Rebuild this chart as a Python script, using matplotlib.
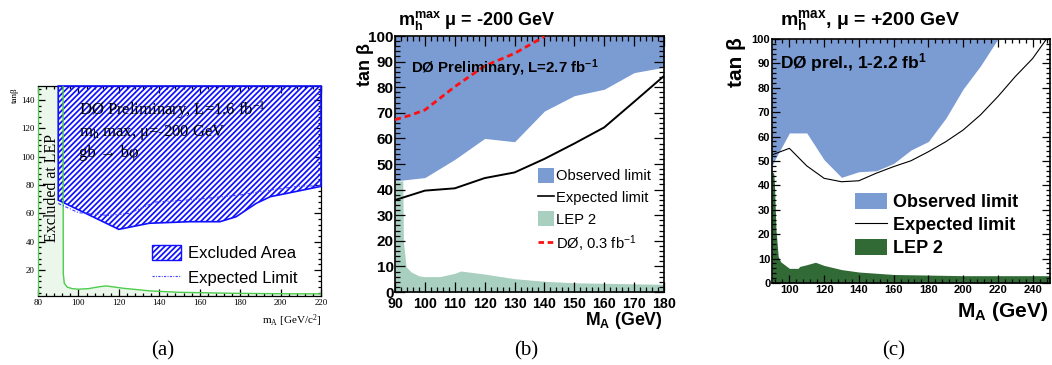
import matplotlib
matplotlib.use("Agg")
import matplotlib.pyplot as plt
from matplotlib.patches import Patch
from matplotlib.lines import Line2D
from matplotlib.ticker import MultipleLocator

plt.rcParams['mathtext.default'] = 'regular'
plt.rcParams['hatch.linewidth'] = 1.25

SANS = ['Liberation Sans', 'DejaVu Sans']
SERIF = ['Liberation Serif', 'DejaVu Serif']

# ---------------- data: panel (a) ----------------
a_lep_x = [80, 92.4, 92.5, 93.0, 94.5, 97, 100, 105, 110.6, 113.9, 122, 135.4, 150, 177, 200, 220]
a_lep_y = [150, 150, 17.6, 10.6, 7.8, 6.8, 6.4, 6.8, 8.2, 8.7, 7.1, 5.2, 4.2, 3.5, 3.2, 3.1]
a_obs_x = [90, 90, 120, 135, 155, 170, 178, 188, 195, 203, 219, 220]
a_obs_y = [150, 69.4, 48.7, 53.0, 54.1, 54.1, 57.6, 67.1, 71.8, 74.1, 78.8, 79.0]
a_exp_x = [90, 100, 115, 125, 138, 155, 180, 195, 210, 220]
a_exp_y = [67, 60.5, 58.5, 60, 68, 69.5, 73, 76.5, 79.3, 79.5]

# ---------------- data: panel (b) ----------------
b_obs_x = [90, 100, 110, 120, 130, 140, 150, 160, 170, 180]
b_obs_y = [43.4, 44.7, 51.8, 60.0, 58.7, 70.7, 76.7, 79.2, 85.7, 87.8]
b_exp_x = [90, 100, 110, 120, 130, 140, 150, 160, 170, 180]
b_exp_y = [35.9, 39.6, 40.5, 44.5, 46.7, 52.0, 58.0, 64.3, 74.3, 84.4]
b_d0_x = [90, 95, 100, 110, 120, 130, 140]
b_d0_y = [67.3, 69.0, 71.1, 80.2, 88.3, 93.2, 99.8]
b_lep_x = [90, 92.6, 92.8, 93.7, 95.3, 98, 100, 105, 110, 112, 120, 130, 140, 150, 160, 170, 180]
b_lep_y = [43.4, 43.4, 20, 9.9, 7.9, 6.3, 6.0, 6.0, 7.3, 8.2, 7.0, 5.2, 4.2, 3.6, 3.4, 3.2, 3.0]

# ---------------- data: panel (c) ----------------
c_obs_x = [90, 92, 100, 110, 120, 130, 140, 150, 160, 170, 180, 190, 200, 210, 220]
c_obs_y = [48, 51, 61.5, 61.5, 50.5, 43.3, 45.6, 46.0, 49.0, 54.5, 58.0, 67.5, 79.5, 89.0, 100]
c_exp_x = [90, 100, 110, 120, 130, 140, 150, 160, 170, 180, 190, 200, 210, 220, 230, 240, 248]
c_exp_y = [52.5, 55.2, 48.0, 42.9, 41.5, 41.9, 45.0, 47.7, 50.1, 53.8, 57.9, 62.7, 68.9, 76.4, 84.6, 92.0, 100]
c_lep_x = [90, 91, 91.4, 92.3, 93.6, 95, 100, 105, 106, 110, 115, 120, 130, 140, 160, 200, 250]
c_lep_y = [45.6, 45, 40.8, 21.7, 10.8, 8.7, 6.0, 6.0, 6.8, 7.5, 8.5, 7.2, 5.5, 4.5, 3.5, 3.0, 3.0]

legend_b = ['Observed limit', 'Expected limit', 'LEP 2', 'D\u00d8, 0.3 fb$^{-1}$']
legend_c = ['Observed limit', 'Expected limit', 'LEP 2']
legend_a = ['Excluded Area', 'Expected Limit']

BLUE = '#7b9bd3'
LEP_B = '#a9cfc0'
LEP_C = '#326a36'
HATCH_BLUE = '#1010ff'

W, H = 1052, 365
fig = plt.figure(figsize=(W / 100, H / 100), dpi=100)


def ax_px(l, t, r, b):
    return fig.add_axes([l / W, 1 - b / H, (r - l) / W, (b - t) / H])


def ftext(x, y, s, **kw):
    fig.text(x / W, 1 - y / H, s, **kw)


def root_ticks(ax, major_len, minor_len, size, weight, family, pad):
    ax.tick_params(which='both', direction='in', top=True, right=True, width=0.9)
    ax.tick_params(which='major', length=major_len, labelsize=size, pad=pad)
    ax.tick_params(which='minor', length=minor_len)
    for lab in ax.get_xticklabels() + ax.get_yticklabels():
        lab.set_fontweight(weight)
        lab.set_family(family)


# ================= panel (a) =================
axa = ax_px(38, 86, 321, 296)
axa.set_xlim(80, 220)
axa.set_ylim(1.6, 150)
axa.fill_between(a_lep_x, 0, a_lep_y, color='#eaf7ea', lw=0, zorder=1)
axa.plot(a_lep_x[1:], a_lep_y[1:], color='#4ccd4c', lw=1.0, zorder=4)
axa.fill(a_obs_x + [220], a_obs_y + [150], facecolor='none', edgecolor=HATCH_BLUE,
         hatch='//////', lw=1.2, zorder=3, clip_on=False)
axa.plot(a_exp_x, a_exp_y, color='#4040ff', lw=0.8, ls=(0, (3, 1.5, 1, 1.5)), zorder=4)
axa.xaxis.set_major_locator(MultipleLocator(20))
axa.xaxis.set_minor_locator(MultipleLocator(4))
axa.yaxis.set_major_locator(MultipleLocator(20))
axa.yaxis.set_minor_locator(MultipleLocator(4))
axa.set_yticks([20, 40, 60, 80, 100, 120, 140])
root_ticks(axa, 5, 2.5, 6.5, 'normal', SERIF, 2.5)
axa.spines['left'].set_color('#4ccd4c')
for s in axa.spines.values():
    s.set_linewidth(0.9)
axa.text(87, 78, 'Excluded at LEP', rotation=90, ha='center', va='center',
         fontsize=11.5, family=SERIF, zorder=5)
ftext(79, 115, 'D\u00d8 Preliminary, L=1.6 fb$^{-1}$', fontsize=12, family=SERIF, va='baseline')
ftext(79, 136, 'm$_h$ max, \u03bc=-200 GeV', fontsize=12, family=SERIF, va='baseline')
ftext(79, 157, 'gb \u2192 b\u03c6', fontsize=12, family=SERIF, va='baseline')
ftext(15, 87, 'tan\u03b2', rotation=90, ha='center', va='top', fontsize=6.5, family=SERIF)
ftext(321, 324, 'm$_A$ [GeV/c$^2$]', ha='right', va='baseline', fontsize=8, family=SERIF)
ha_a = [Patch(facecolor='white', edgecolor=HATCH_BLUE, hatch='//////', lw=1.0),
        Line2D([], [], color='#4040ff', lw=0.8, ls=(0, (2, 1.2, 0.8, 1.2)))]
axa.legend(ha_a, legend_a, loc='upper left', bbox_to_anchor=(0.404, 0.243),
           frameon=False, borderpad=0, borderaxespad=0, handlelength=1.74,
           handleheight=1.0, handletextpad=0.38, labelspacing=0.5,
           prop={'family': SANS, 'size': 12})

# ================= panel (b) =================
axb = ax_px(395, 36, 664, 292)
axb.set_xlim(90, 180)
axb.set_ylim(0, 100)
axb.fill_between(b_obs_x, b_obs_y, 100, color=BLUE, lw=0, zorder=1)
axb.fill_between(b_lep_x, 0, b_lep_y, color=LEP_B, lw=0, zorder=1)
axb.plot(b_exp_x, b_exp_y, color='black', lw=1.4, zorder=3)
axb.plot(b_d0_x, b_d0_y, color='#ff1010', lw=2.0, ls=(0, (2.2, 1.4)), zorder=3)
axb.xaxis.set_major_locator(MultipleLocator(10))
axb.xaxis.set_minor_locator(MultipleLocator(2))
axb.yaxis.set_major_locator(MultipleLocator(10))
axb.yaxis.set_minor_locator(MultipleLocator(2))
root_ticks(axb, 7, 3.5, 11, 'bold', SANS, 1)
axb.tick_params(axis='x', pad=3.5)
for lab in axb.get_xticklabels():
    lab.set_fontsize(10.3)
for lab in axb.get_yticklabels():
    lab.set_verticalalignment('center_baseline')
for s in axb.spines.values():
    s.set_linewidth(1.2)
ftext(398, 25, 'm$_h^{max}$ \u03bc = -200 GeV', fontsize=13, fontweight='bold',
      family=SANS, va='baseline')
ftext(411, 73, 'D\u00d8 Preliminary, L=2.7 fb$^{-1}$', fontsize=10.8, fontweight='bold',
      family=SANS, va='baseline')
ftext(365, 43, 'tan \u03b2', rotation=90, ha='center', va='top', fontsize=13,
      fontweight='bold', family=SANS)
ftext(663, 325, 'M$_A$ (GeV)', ha='right', va='baseline', fontsize=12.8,
      fontweight='bold', family=SANS)
hb = [Patch(facecolor=BLUE, lw=0), Line2D([], [], color='black', lw=1.2),
      Patch(facecolor=LEP_B, lw=0),
      Line2D([], [], color='#ff1010', lw=2.0, ls=(0, (2.0, 1.3)))]
axb.legend(hb, legend_b, loc='upper left', bbox_to_anchor=(0.532, 0.484),
           frameon=False, borderpad=0, borderaxespad=0, handlelength=1.05,
           handleheight=1.15, handletextpad=0.15, labelspacing=0.43,
           prop={'family': SANS, 'size': 10.6})

# ================= panel (c) =================
axc = ax_px(772, 39, 1050, 283)
axc.set_xlim(90, 250)
axc.set_ylim(0, 100)
axc.fill_between(c_obs_x, c_obs_y, 100, color=BLUE, lw=0, zorder=1)
axc.fill_between(c_lep_x, 0, c_lep_y, color=LEP_C, lw=0, zorder=1)
axc.plot(c_exp_x, c_exp_y, color='black', lw=0.8, zorder=3)
axc.xaxis.set_major_locator(MultipleLocator(20))
axc.xaxis.set_minor_locator(MultipleLocator(4))
axc.yaxis.set_major_locator(MultipleLocator(10))
axc.yaxis.set_minor_locator(MultipleLocator(2))
axc.set_xticks([100, 120, 140, 160, 180, 200, 220, 240])
root_ticks(axc, 6, 3, 8, 'bold', SANS, 1.2)
for s in axc.spines.values():
    s.set_linewidth(1.2)
ftext(780, 25, 'm$_h^{max}$, \u03bc = +200 GeV', fontsize=14, fontweight='bold',
      family=SANS, va='baseline')
ftext(780, 68, 'D\u00d8 prel., 1-2.2 fb$^{1}$', fontsize=12.5, fontweight='bold',
      family=SANS, va='baseline')
ftext(737, 37, 'tan \u03b2', rotation=90, ha='center', va='top', fontsize=15,
      fontweight='bold', family=SANS)
ftext(1048, 317, 'M$_A$ (GeV)', ha='right', va='baseline', fontsize=15,
      fontweight='bold', family=SANS)
hc = [Patch(facecolor=BLUE, lw=0), Line2D([], [], color='black', lw=0.8),
      Patch(facecolor=LEP_C, lw=0)]
axc.legend(hc, legend_c, loc='upper left', bbox_to_anchor=(0.2986, 0.369),
           frameon=False, borderpad=0, borderaxespad=0, handlelength=1.78,
           handleheight=1.0, handletextpad=0.33, labelspacing=0.25,
           prop={'family': SANS, 'size': 13, 'weight': 'bold'})

# ---------------- captions ----------------
for cx, lab in [(163, '(a)'), (526, '(b)'), (894, '(c)')]:
    ftext(cx, 351, lab, ha='center', va='center', fontsize=15, family=SERIF)

fig.savefig('out.png', dpi=100)
